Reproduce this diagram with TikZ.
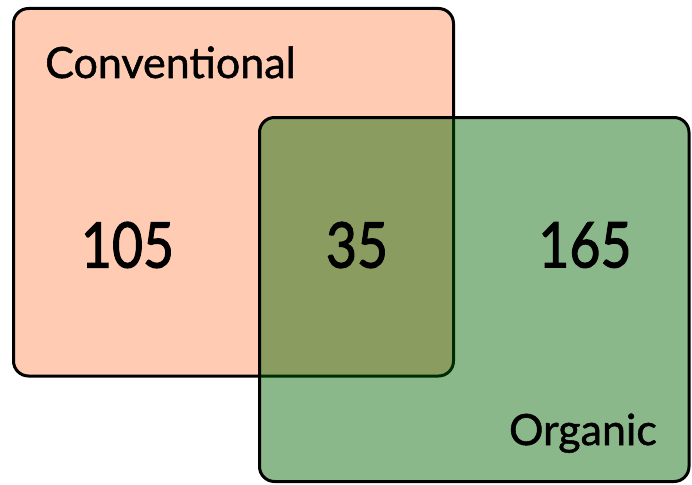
\documentclass[tikz,border=0pt]{standalone}
\usepackage{fontspec}
\newfontfamily\setfont{Lato}[FakeBold=1.2]
\newfontfamily\countfont{Lato}[FakeBold=1.8]
\begin{document}
\begin{tikzpicture}[x=1pt,y=-1pt,
  setbox/.style={line width=3pt,rounded corners=15pt},
  label/.style={font=\setfont\fontsize{43}{43}\selectfont,anchor=base west,inner sep=0pt},
  count/.style={font=\countfont\fontsize{63}{63}\selectfont,inner sep=0pt,xscale=0.85}]
\definecolor{salmon}{RGB}{255,204,179}
\definecolor{leaf}{RGB}{0,100,0}
\useasboundingbox (0,0) rectangle (692,484);
% Conventional set
\draw[setbox,fill=salmon] (13.5,8.5) rectangle (453.5,376);
% Organic set, translucent over the first
\fill[rounded corners=15pt,fill=leaf,fill opacity=0.46] (259.5,117.5) rectangle (689,481.5);
\draw[setbox] (259.5,117.5) rectangle (689,481.5);
\node[label] (conv) at (45,78) {Conventional};
\node[label,anchor=base east] (org) at (657,445) {Organic};
\node[count] (a) at (127.5,245) {105};
\node[count] (b) at (357,245) {35};
\node[count] (c) at (585,245) {165};
\end{tikzpicture}
\end{document}
